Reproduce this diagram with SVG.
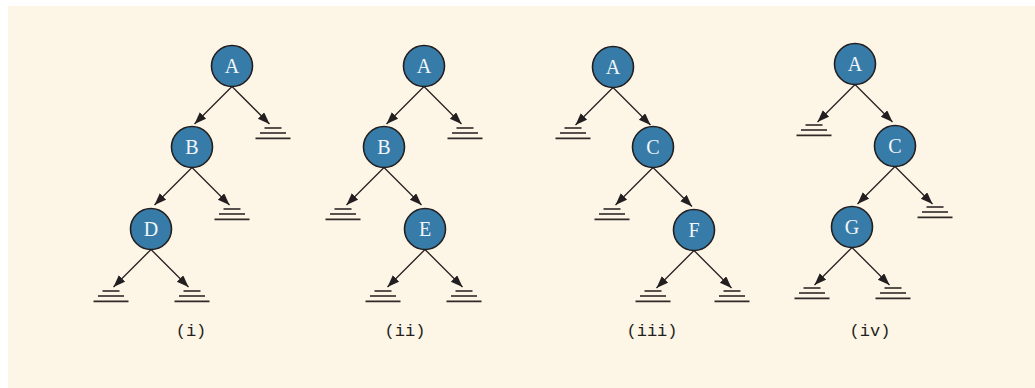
<svg xmlns="http://www.w3.org/2000/svg" width="1035" height="388" viewBox="0 0 1035 388">
<defs>
<style>
.bg{fill:#fdf5e5}
.nd circle{fill:#377ca8;stroke:#231f20;stroke-width:1.6}
.nd text{font-family:"Liberation Serif","Times New Roman",serif;font-size:20px;fill:#f2f6f9;text-anchor:middle}
.gr line{stroke:#2f2a28;stroke-width:1.6}
.edges line{stroke:#231f20;stroke-width:1.3;marker-end:url(#ah)}
.lbl{font-family:"Liberation Mono","Courier New",monospace;font-size:17px;fill:#231f20;text-anchor:middle}
</style>
<marker id="ah" markerUnits="userSpaceOnUse" markerWidth="13" markerHeight="10" refX="12" refY="4.5" orient="auto">
<path d="M0,0 L12,4.5 L0,9 Z" fill="#231f20"/>
</marker>
<g id="gnd" class="gr">
<line x1="-8.5" y1="0" x2="8.5" y2="0" stroke="#5a524d"/>
<line x1="-13" y1="5" x2="13" y2="5"/>
<line x1="-17.5" y1="10.4" x2="17.5" y2="10.4"/>
</g>
</defs>
<rect class="bg" x="8" y="6" width="1027" height="382"/>

<g id="connectors" class="edges">
<line x1="232" y1="86.5" x2="194.5" y2="124"/>
<line x1="232" y1="86.5" x2="269.5" y2="124"/>
<line x1="192" y1="167.5" x2="154.5" y2="205"/>
<line x1="192" y1="167.5" x2="229.5" y2="205"/>
<line x1="151" y1="249.5" x2="113.5" y2="287"/>
<line x1="151" y1="249.5" x2="188.5" y2="287"/>

<line x1="424" y1="86.5" x2="386.5" y2="124"/>
<line x1="424" y1="86.5" x2="461.5" y2="124"/>
<line x1="384" y1="167.5" x2="346.5" y2="205"/>
<line x1="384" y1="167.5" x2="421.5" y2="205"/>
<line x1="425" y1="249.5" x2="387.5" y2="287"/>
<line x1="425" y1="249.5" x2="462.5" y2="287"/>

<line x1="613" y1="87.5" x2="575.5" y2="125"/>
<line x1="613" y1="87.5" x2="650.5" y2="125"/>
<line x1="653" y1="167.5" x2="615.5" y2="205"/>
<line x1="653" y1="167.5" x2="692" y2="206.5"/>
<line x1="694" y1="250.5" x2="656.5" y2="288"/>
<line x1="694" y1="250.5" x2="731.5" y2="288"/>

<line x1="855" y1="84.5" x2="817.5" y2="122"/>
<line x1="855" y1="84.5" x2="892.5" y2="122"/>
<line x1="895" y1="166.5" x2="857.5" y2="204"/>
<line x1="895" y1="166.5" x2="932.5" y2="204"/>
<line x1="852" y1="247.5" x2="814.5" y2="285"/>
<line x1="852" y1="247.5" x2="889.5" y2="285"/>
</g>

<g id="tree1">
<g id="t1-A" class="nd"><circle cx="232" cy="66" r="20.5"/><text x="232" y="73">A</text></g>
<g id="t1-B" class="nd"><circle cx="192" cy="147" r="20.5"/><text x="192" y="154">B</text></g>
<g id="t1-D" class="nd"><circle cx="151" cy="229" r="20.5"/><text x="151" y="236">D</text></g>
<g id="t1-null1"><use href="#gnd" x="273" y="128"/></g>
<g id="t1-null2"><use href="#gnd" x="232" y="209"/></g>
<g id="t1-null3"><use href="#gnd" x="111" y="291"/></g>
<g id="t1-null4"><use href="#gnd" x="192" y="291"/></g>
<text class="lbl" x="191" y="336">(i)</text>
</g>

<g id="tree2">
<g id="t2-A" class="nd"><circle cx="424" cy="66" r="20.5"/><text x="424" y="73">A</text></g>
<g id="t2-B" class="nd"><circle cx="384" cy="147" r="20.5"/><text x="384" y="154">B</text></g>
<g id="t2-E" class="nd"><circle cx="425" cy="229" r="20.5"/><text x="425" y="236">E</text></g>
<g id="t2-null1"><use href="#gnd" x="465" y="128"/></g>
<g id="t2-null2"><use href="#gnd" x="343" y="209"/></g>
<g id="t2-null3"><use href="#gnd" x="383" y="291"/></g>
<g id="t2-null4"><use href="#gnd" x="464" y="291"/></g>
<text class="lbl" x="405" y="336">(ii)</text>
</g>

<g id="tree3">
<g id="t3-A" class="nd"><circle cx="613" cy="67" r="20.5"/><text x="613" y="74">A</text></g>
<g id="t3-C" class="nd"><circle cx="653" cy="147" r="20.5"/><text x="653" y="154">C</text></g>
<g id="t3-F" class="nd"><circle cx="694" cy="230" r="20.5"/><text x="694" y="237">F</text></g>
<g id="t3-null1"><use href="#gnd" x="573" y="128"/></g>
<g id="t3-null2"><use href="#gnd" x="612" y="209"/></g>
<g id="t3-null3"><use href="#gnd" x="653" y="291"/></g>
<g id="t3-null4"><use href="#gnd" x="732" y="291"/></g>
<text class="lbl" x="652" y="336">(iii)</text>
</g>

<g id="tree4">
<g id="t4-A" class="nd"><circle cx="855" cy="64" r="20.5"/><text x="855" y="71">A</text></g>
<g id="t4-C" class="nd"><circle cx="895" cy="146" r="20.5"/><text x="895" y="153">C</text></g>
<g id="t4-G" class="nd"><circle cx="852" cy="227" r="20.5"/><text x="852" y="234">G</text></g>
<g id="t4-null1"><use href="#gnd" x="814" y="125"/></g>
<g id="t4-null2"><use href="#gnd" x="935" y="207"/></g>
<g id="t4-null3"><use href="#gnd" x="812" y="288"/></g>
<g id="t4-null4"><use href="#gnd" x="893" y="288"/></g>
<text class="lbl" x="870" y="336">(iv)</text>
</g>
</svg>
